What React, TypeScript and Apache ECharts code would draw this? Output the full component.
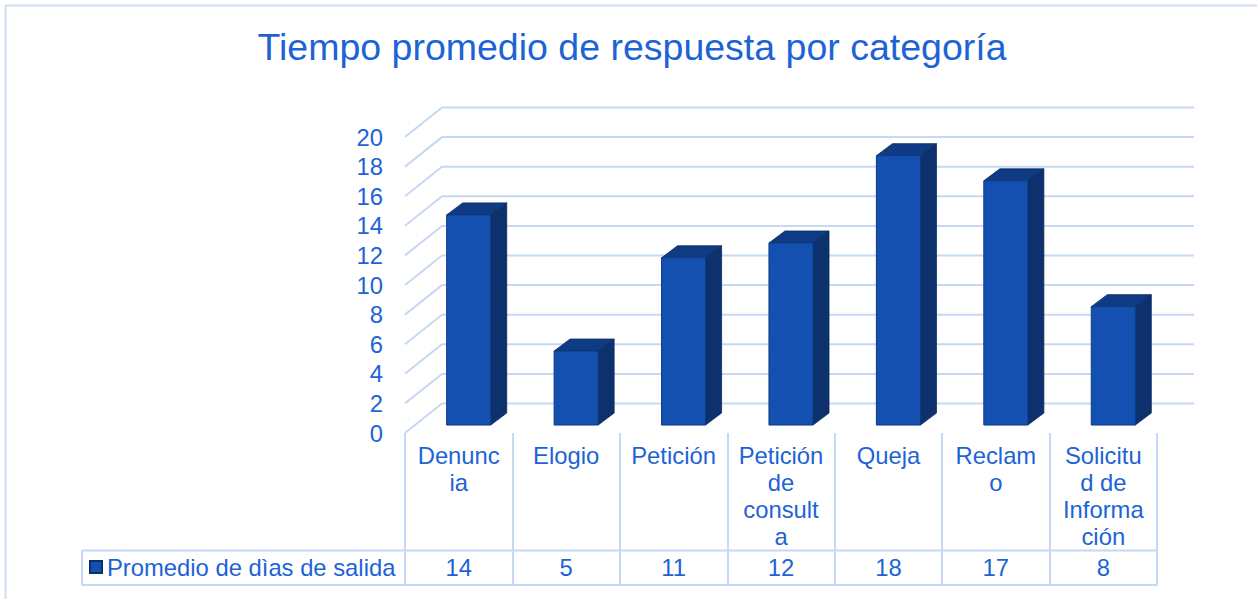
import React, { useEffect, useRef } from "react";
import * as echarts from "echarts";

// ---- data ----
const chartTitle = "Tiempo promedio de respuesta por categoría";
const seriesName = "Promedio de dìas de salida";
const categories = [
  "Denuncia",
  "Elogio",
  "Petición",
  "Petición de consulta",
  "Queja",
  "Reclamo",
  "Solicitud de Información",
];
const categoryTickLabels = [
  "Denunc\nia",
  "Elogio",
  "Petición",
  "Petición\nde\nconsult\na",
  "Queja",
  "Reclam\no",
  "Solicitu\nd de\nInforma\nción",
];
const averageDays = [14.2, 5.0, 11.3, 12.3, 18.2, 16.5, 8.0];
const tableValueLabels = ["14", "5", "11", "12", "18", "17", "8"];
const yTicks = [0, 2, 4, 6, 8, 10, 12, 14, 16, 18, 20];

// ---- layout / style ----
const W = 1257;
const H = 599;
const GRID_LEFT = 405;
const GRID_TOP = 137;
const GRID_W = 752;
const GRID_H = 296;
const DEPTH_X = 37;
const DEPTH_Y = -29.5;
const TABLE_LEFT = 82;
const TABLE_MID = 550.5;
const TABLE_BOTTOM = 585;
const TEXT = "#1d63d6";
const GRID_LINE = "#c6d8f4";
const FRONT = "#1450b0";
const SIDE = "#0c316c";
const TOP = "#0e3b84";
const FONT = "'Liberation Sans', Arial, sans-serif";
const FS = 23.8;

export default function App() {
  const ref = useRef<HTMLDivElement>(null);

  useEffect(() => {
    if (!ref.current) return;
    const chart = echarts.init(ref.current, undefined, { renderer: "svg" });

    const option: any = {
      animation: false,
      backgroundColor: "#ffffff",
      textStyle: { fontFamily: FONT },
      title: {
        text: chartTitle,
        left: 632,
        textAlign: "center",
        top: 26,
        padding: 0,
        textStyle: {
          color: TEXT,
          fontSize: 37.5,
          fontWeight: "normal",
          fontFamily: FONT,
          lineHeight: 42,
        },
      },
      legend: {
        data: [seriesName],
        left: 89,
        top: 555,
        padding: 0,
        icon: "rect",
        itemWidth: 12,
        itemHeight: 12,
        itemGap: 5,
        textStyle: { color: TEXT, fontSize: FS, fontFamily: FONT, lineHeight: 24 },
        selectedMode: false,
      },
      grid: {
        left: GRID_LEFT,
        top: GRID_TOP,
        width: GRID_W,
        height: GRID_H,
        containLabel: false,
      },
      xAxis: [
        {
          type: "category",
          data: categories,
          position: "bottom",
          axisLine: { show: false },
          axisTick: {
            show: true,
            length: TABLE_BOTTOM - (GRID_TOP + GRID_H),
            lineStyle: { color: GRID_LINE, width: 2 },
          },
          splitLine: { show: false },
          axisLabel: {
            interval: 0,
            margin: 8.5,
            color: TEXT,
            fontSize: FS,
            fontFamily: FONT,
            lineHeight: 27,
            formatter: (_v: string, i: number) => categoryTickLabels[i],
          },
        },
        {
          type: "category",
          data: tableValueLabels,
          position: "bottom",
          axisLine: { show: false },
          axisTick: { show: false },
          splitLine: { show: false },
          axisLabel: {
            interval: 0,
            margin: 120.5,
            color: TEXT,
            fontSize: FS,
            fontFamily: FONT,
            lineHeight: 27,
          },
        },
      ],
      yAxis: {
        type: "value",
        min: 0,
        max: 20,
        interval: 2,
        axisLine: { show: false },
        axisTick: { show: false },
        splitLine: { show: false },
        axisLabel: {
          margin: 22,
          color: TEXT,
          fontSize: FS,
          fontFamily: FONT,
        },
      },
      graphic: [
        {
          type: "rect",
          shape: { x: 5.5, y: 5.5, width: W + 100, height: H + 100 },
          style: { fill: "none", stroke: "#cfdcf5", lineWidth: 2 },
          silent: true,
          z: -10,
        },
        {
          type: "line",
          shape: { x1: TABLE_LEFT, y1: TABLE_MID, x2: GRID_LEFT + GRID_W, y2: TABLE_MID },
          style: { stroke: GRID_LINE, lineWidth: 2 },
          silent: true,
        },
        {
          type: "line",
          shape: { x1: TABLE_LEFT, y1: TABLE_BOTTOM, x2: GRID_LEFT + GRID_W, y2: TABLE_BOTTOM },
          style: { stroke: GRID_LINE, lineWidth: 2 },
          silent: true,
        },
        {
          type: "line",
          shape: { x1: TABLE_LEFT, y1: TABLE_MID, x2: TABLE_LEFT, y2: TABLE_BOTTOM },
          style: { stroke: GRID_LINE, lineWidth: 2 },
          silent: true,
        },
      ],
      series: [
        {
          type: "custom",
          name: "gridlines",
          xAxisIndex: 0,
          yAxisIndex: 0,
          clip: false,
          silent: true,
          z: 1,
          encode: { x: 0, y: 1 },
          data: yTicks.map((v) => [0, v]),
          renderItem: (params: any, api: any) => {
            const cs = params.coordSys;
            const y = api.coord([0, api.value(1)])[1];
            const x0 = cs.x;
            return {
              type: "polyline",
              shape: {
                points: [
                  [x0, y],
                  [x0 + DEPTH_X, y + DEPTH_Y],
                  [x0 + cs.width + DEPTH_X, y + DEPTH_Y],
                ],
              },
              style: { stroke: GRID_LINE, lineWidth: 2, fill: "none" },
            };
          },
        },
        {
          type: "custom",
          name: seriesName,
          xAxisIndex: 0,
          yAxisIndex: 0,
          clip: false,
          z: 3,
          itemStyle: { color: FRONT, borderColor: "#0b2f6b", borderWidth: 1 },
          encode: { x: 0, y: 1 },
          data: averageDays.map((v, i) => [i, v]),
          renderItem: (_params: any, api: any) => {
            const i = api.value(0);
            const v = api.value(1);
            const base = api.coord([i, 0]);
            const top = api.coord([i, v]);
            const bw = api.size([1, 0])[0] * 0.41;
            const fx = DEPTH_X * 0.27;
            const fy = DEPTH_Y * 0.27;
            const dx = 16;
            const dy = -12;
            const x0 = base[0] + fx - bw / 2;
            const x1 = x0 + bw;
            const yb = base[1] + fy;
            const yt = top[1] + fy;
            return {
              type: "group",
              children: [
                {
                  type: "polygon",
                  shape: {
                    points: [
                      [x1, yb],
                      [x1 + dx, yb + dy],
                      [x1 + dx, yt + dy],
                      [x1, yt],
                    ],
                  },
                  style: { fill: SIDE, stroke: "#0a2a5e", lineWidth: 0.8 },
                },
                {
                  type: "polygon",
                  shape: {
                    points: [
                      [x0, yt],
                      [x0 + dx, yt + dy],
                      [x1 + dx, yt + dy],
                      [x1, yt],
                    ],
                  },
                  style: { fill: TOP, stroke: "#0a2a5e", lineWidth: 0.8 },
                },
                {
                  type: "rect",
                  shape: { x: x0, y: yt, width: bw, height: yb - yt },
                  style: { fill: FRONT, stroke: "#0d3a85", lineWidth: 1 },
                },
              ],
            };
          },
        },
      ],
    };

    chart.setOption(option);
    return () => chart.dispose();
  }, []);

  return (
    <div
      ref={ref}
      style={{ position: "fixed", left: 0, top: 0, width: W, height: H, background: "#fff" }}
    />
  );
}
